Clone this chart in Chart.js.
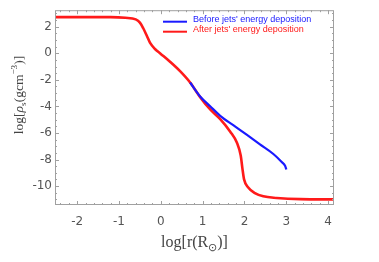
<!DOCTYPE html>
<html>
<head>
<meta charset="utf-8">
<script src="https://cdn.jsdelivr.net/npm/chart.js@4.4.0/dist/chart.umd.min.js"></script>
<style>
  html, body { margin: 0; padding: 0; background: #fff; }
</style>
</head>
<body>
<canvas id="densityChart" width="379" height="262"></canvas>
<script>
// values
const seriesLabels = ["Before jets' energy deposition", "After jets' energy deposition"];
const logRBefore = [0.70, 0.94, 1.18, 1.42, 1.74, 2.06, 2.37, 2.69, 2.89, 2.97, 3.00];
const rhoBefore = [-2.20, -3.25, -3.99, -4.71, -5.43, -6.15, -6.86, -7.58, -8.18, -8.47, -8.75];
const logRAfter = [-2.53, -1.2, -0.85, -0.6, -0.5, -0.42, -0.33, -0.26, -0.14, 0, 0.22, 0.46, 0.7, 0.94, 1.18, 1.42, 1.66, 1.82, 1.91, 1.95, 1.99, 2.09, 2.25, 2.45, 2.77, 3.33, 4.14];
const rhoAfter = [2.72, 2.72, 2.67, 2.55, 2.31, 1.88, 1.28, 0.80, 0.32, -0.05, -0.64, -1.35, -2.20, -3.30, -4.23, -4.95, -5.90, -6.74, -7.70, -8.66, -9.49, -10.10, -10.53, -10.77, -10.89, -10.98, -11.00];
const xTicks = [-2, -1, 0, 1, 2, 3, 4];
const yTicks = [2, 0, -2, -4, -6, -8, -10];
const seriesColors = ['#1a1aff', '#ff1a1a'];

const toPoints = (xs, ys) => xs.map((v, i) => ({ x: v, y: ys[i] }));

// draws text pieces with sub/superscripts, centred on (cx, cy)
function drawRich(ctx, parts, cx, cy, size) {
    const fontOf = (p) => {
        const s = p.k ? size * 0.68 : size;
        return (p.it ? 'italic ' : '') + s + 'px "Liberation Serif", serif';
    };
    let total = 0;
    parts.forEach(p => { ctx.font = fontOf(p); total += ctx.measureText(p.t).width; });
    let x = cx - total / 2;
    parts.forEach(p => {
        ctx.font = fontOf(p);
        const dy = p.k === 'sub' ? size * 0.22 : p.k === 'sup' ? -size * 0.42 : 0;
        ctx.fillText(p.t, x, cy + dy);
        x += ctx.measureText(p.t).width;
    });
}

const framePlugin = {
    id: 'frame',
    afterDatasetsDraw(chart) {
        const { ctx, chartArea: a, scales } = chart;
        const sx = scales.x, sy = scales.y;
        ctx.save();
        ctx.strokeStyle = '#a0a0a0';
        ctx.lineWidth = 1;
        ctx.strokeRect(a.left + 0.5, a.top + 0.5, a.right - a.left - 1, a.bottom - a.top - 1);
        ctx.beginPath();
        for (let i = -13; i <= 21; i++) {
            const v = i / 5;
            if (v < sx.min || v > sx.max) continue;
            const px = Math.round(sx.getPixelForValue(v)) + 0.5;
            const len = i % 5 === 0 ? 4 : 2;
            ctx.moveTo(px, a.bottom); ctx.lineTo(px, a.bottom - len);
            ctx.moveTo(px, a.top); ctx.lineTo(px, a.top + len);
        }
        for (let i = -23; i <= 7; i++) {
            const v = i / 2;
            if (v < sy.min || v > sy.max) continue;
            const py = Math.round(sy.getPixelForValue(v)) + 0.5;
            const len = i % 4 === 0 ? 4 : 2;
            ctx.moveTo(a.left, py); ctx.lineTo(a.left + len, py);
            ctx.moveTo(a.right, py); ctx.lineTo(a.right - len, py);
        }
        ctx.stroke();

        // legend inside the plot, top right
        ctx.font = '9px "Liberation Sans", Arial, sans-serif';
        ctx.textBaseline = 'middle';
        chart.data.datasets.forEach((ds, i) => {
            const ly = a.top + 11.5 + i * 10;
            ctx.strokeStyle = ds.borderColor;
            ctx.lineWidth = 2;
            ctx.beginPath();
            ctx.moveTo(163, ly); ctx.lineTo(187, ly);
            ctx.stroke();
            ctx.fillStyle = ds.borderColor;
            ctx.fillText(ds.label, 193, ly - 2.5);
        });

        // axis titles
        ctx.fillStyle = '#444';
        ctx.textBaseline = 'alphabetic';
        drawRich(ctx, [{ t: 'log[r(R' }, { t: '\u2299', k: 'sub' }, { t: ')]' }],
            (a.left + a.right) / 2, 247, 16);
        ctx.save();
        ctx.translate(23, 95);
        ctx.rotate(-Math.PI / 2);
        drawRich(ctx, [{ t: 'log[' }, { t: '\u03c1', it: true }, { t: 's', k: 'sub' },
            { t: '(gcm' }, { t: '\u22123', k: 'sup' }, { t: ')]' }], 0, 0, 13.5);
        ctx.restore();
        ctx.restore();
    }
};

const tickFont = { family: '"DejaVu Sans", sans-serif', size: 12 };

new Chart(document.getElementById('densityChart'), {
    type: 'line',
    data: {
        datasets: [{
            label: seriesLabels[0],
            data: toPoints(logRBefore, rhoBefore),
            borderColor: seriesColors[0],
            borderWidth: 2.2,
            pointRadius: 0,
            cubicInterpolationMode: 'monotone'
        }, {
            label: seriesLabels[1],
            data: toPoints(logRAfter, rhoAfter),
            borderColor: seriesColors[1],
            borderWidth: 2.6,
            pointRadius: 0,
            cubicInterpolationMode: 'monotone'
        }]
    },
    options: {
        responsive: false,
        animation: false,
        devicePixelRatio: 1,
        layout: { padding: { top: 1, right: 45, left: 0, bottom: 0 } },
        plugins: { legend: { display: false }, tooltip: { enabled: false } },
        scales: {
            x: {
                type: 'linear',
                min: -2.53,
                max: 4.14,
                afterBuildTicks: s => { s.ticks = xTicks.map(v => ({ value: v })); },
                afterFit: s => { s.height = 57; },
                grid: { display: false, drawTicks: false },
                border: { display: false },
                ticks: { padding: 10, color: '#555', font: tickFont, maxRotation: 0, autoSkip: false, callback: v => String(v) }
            },
            y: {
                type: 'linear',
                min: -11.42,
                max: 3.24,
                afterBuildTicks: s => { s.ticks = yTicks.map(v => ({ value: v })); },
                afterFit: s => { s.width = 55; },
                grid: { display: false, drawTicks: false },
                border: { display: false },
                ticks: { padding: 3, color: '#555', font: tickFont, autoSkip: false, callback: v => String(v) }
            }
        }
    },
    plugins: [framePlugin]
});
</script>
</body>
</html>
